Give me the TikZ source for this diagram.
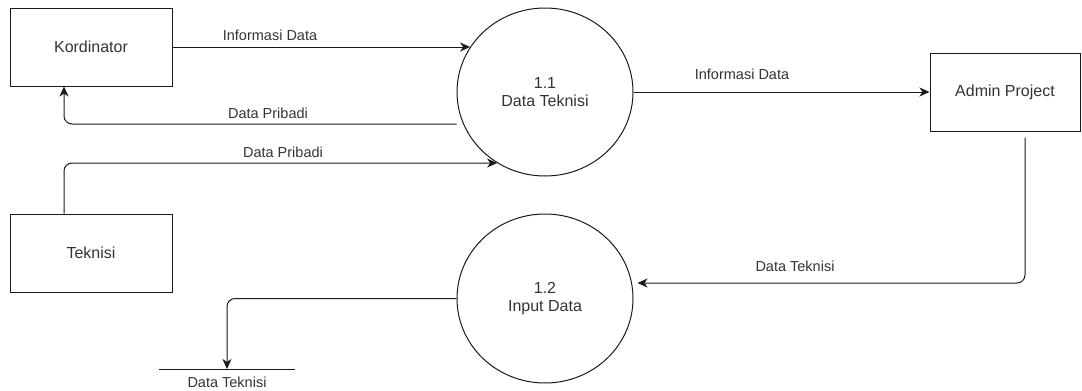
\documentclass[tikz,border=0pt]{standalone}
\usepackage{fontspec}
\setmainfont{Liberation Sans}
\usetikzlibrary{shapes.geometric,arrows.meta,calc}
\definecolor{txt}{HTML}{333333}
\definecolor{ln}{HTML}{1A1A1A}
\begin{document}
\begin{tikzpicture}[x=1pt,y=-1pt,
  ent/.style={draw=ln, line width=1pt, rectangle, minimum width=162pt, minimum height=78pt, inner sep=0pt,
    text=txt, font=\fontsize{16}{18}\selectfont},
  proc/.style={draw=ln, line width=1pt, ellipse, minimum width=176pt, minimum height=168pt, inner sep=0pt,
    text=txt, align=center, font=\fontsize{16}{18}\selectfont},
  lab/.style={inner sep=0pt, text=txt, font=\fontsize{14.5}{16}\selectfont},
  flow/.style={draw=ln, line width=1pt, -{Stealth[length=10pt,width=9pt,inset=3pt]}, rounded corners=8pt}
]
\useasboundingbox (0,0) rectangle (1082,391);

\node[ent] (kord) at (91,47) {Kordinator};
\node[ent] (tek) at (91,253) {Teknisi};
\node[ent, minimum width=150pt] (admin) at (1005,92) {Admin Project};
\node[proc] (p11) at (545,92) {1.1\\Data Teknisi};
\node[proc, minimum height=169pt] (p12) at (545,298.5) {1.2\\Input Data};

% data store
\coordinate (s1) at (159,369);
\coordinate (s2) at (295,369);
\coordinate (st) at (227,369);
\draw[draw=ln, line width=1pt] (s1) -- (s2);
\node[lab] (stl) at (227,382) {Data Teknisi};

% flows
\draw[flow] (kord.east) -- (kord.east -| p11.149);
\draw[flow] ($(p11.west)+(0,32)$) -| ([xshift=-27pt]kord.south);
\draw[flow] ([xshift=-27pt]tek.north) |- (p11.236.5);
\draw[flow] (p11.east) -- (admin.west);
\draw[flow] ([xshift=20pt,yshift=-6pt]admin.south) |- ($(p12.east)+(4,-15.5)$);
\draw[flow] (p12.west) -| (st);

% labels
\node[lab] (l1) at (270,35) {Informasi Data};
\node[lab] (l2) at (268,113) {Data Pribadi};
\node[lab] (l3) at (283,152) {Data Pribadi};
\node[lab] (l4) at (742,74) {Informasi Data};
\node[lab] (l5) at (795,266) {Data Teknisi};
\end{tikzpicture}
\end{document}
